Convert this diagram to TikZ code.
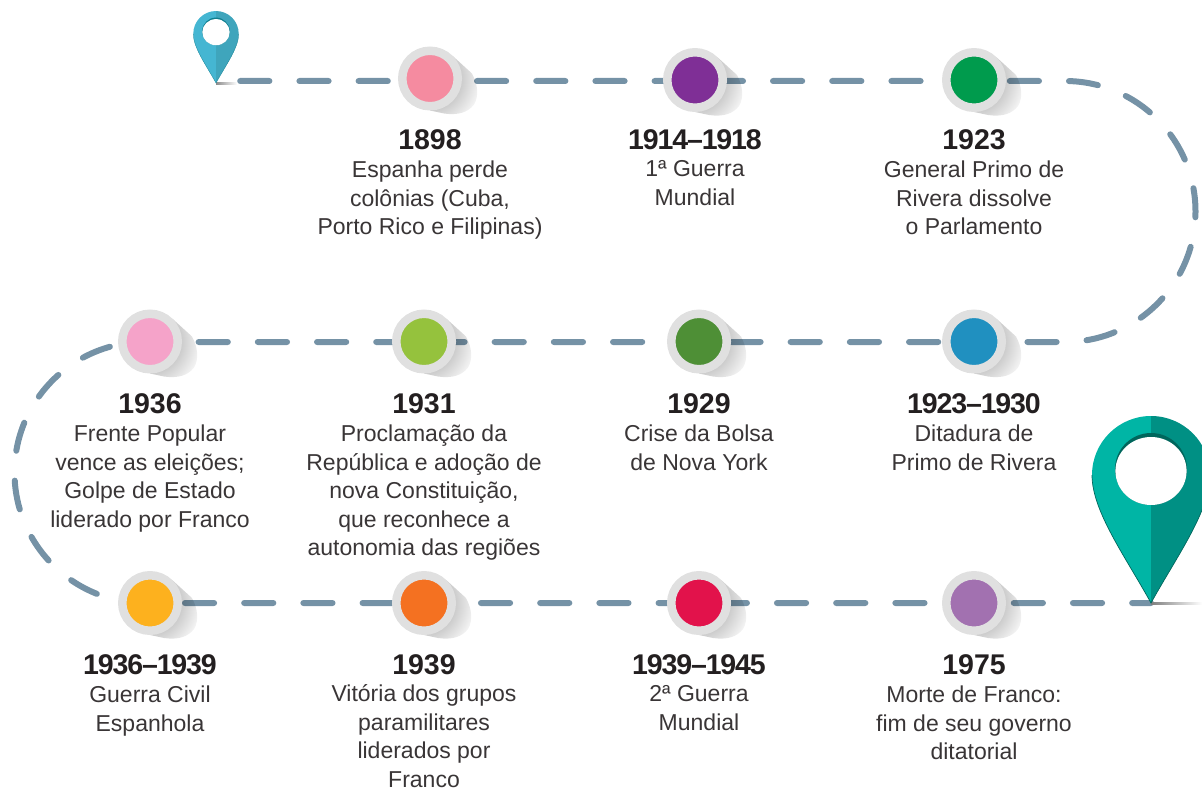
\documentclass[tikz,border=0pt]{standalone}
\usepackage{fontspec}
\setmainfont{Liberation Sans}
\usetikzlibrary{
  positioning,
  backgrounds,
  fadings
}
\definecolor{routeblue}{HTML}{7592A6}
\definecolor{ringgrey}{HTML}{E0E0E0}
\definecolor{inkblack}{HTML}{231F20}
\definecolor{rosepink}{HTML}{F58BA0}
\definecolor{warpurple}{HTML}{7F2F96}
\definecolor{flaggreen}{HTML}{009B4D}
\definecolor{seablue}{HTML}{2090C0}
\definecolor{leafgreen}{HTML}{4E8F36}
\definecolor{limegreen}{HTML}{95C23D}
\definecolor{softpink}{HTML}{F5A3C9}
\definecolor{sunyellow}{HTML}{FDB11E}
\definecolor{warmorange}{HTML}{F47121}
\definecolor{warred}{HTML}{E2124B}
\definecolor{lilac}{HTML}{A271B0}
\definecolor{pinskyL}{HTML}{45B6D2}
\definecolor{pinskyR}{HTML}{3FA5BC}
\definecolor{pinskyD}{HTML}{0F7F90}
\definecolor{pintealL}{HTML}{00B5A5}
\definecolor{pintealR}{HTML}{009084}
\definecolor{pintealD}{HTML}{00665C}
\tikzfading[name=shadowfade, inner color=transparent!55, outer color=transparent!100]
\tikzset{
  route/.style={
    line width=6pt, routeblue, line cap=round,
    dash pattern=on 29.2pt off 30pt, dash phase=35pt
  },
  stopmark/.style={
    circle, draw=ringgrey, line width=8.5pt, fill=#1,
    minimum size=55.5pt, inner sep=0pt
  },
  yearlabel/.style={
    anchor=north, inner sep=0pt, inkblack,
    font=\fontsize{28.5}{30}\selectfont\bfseries
  },
  rangelabel/.style={
    yearlabel,
    font=\fontsize{28.5}{30}\selectfont\bfseries\addfontfeature{LetterSpace=-4}
  },
  desclabel/.style={
    anchor=north, inner sep=0pt, align=center, inkblack!90,
    font=\fontsize{23}{28.6}\selectfont
  }
}
% name, position, colour
\newcommand\stopat[3]{
  \begin{scope}[shift={(#2)}]
    \clip (22.6,-22.6) -- (42,-5) .. controls (48,6) and (49,18) .. (44,26)
      .. controls (38,34) and (28,37) .. (14,35) -- (0,32) -- (0,0) -- cycle;
    \fill [black, path fading=shadowfade] (0,0) circle (56pt);
  \end{scope}
  \node [stopmark=#3] (#1) at (#2) {};
}
% position of the tip, scale, left, right, dark colour
\newcommand\mappin[5]{
  \begin{scope}[shift={(#1)}, scale=#2]
    \fill [#3] (0,0) .. controls (-26,-47) and (-59,-92) .. (-59,-128)
      .. controls (-59,-160.6) and (-32.6,-187) .. (0,-187) -- cycle;
    \fill [#4] (0,0) .. controls (26,-47) and (59,-92) .. (59,-128)
      .. controls (59,-160.6) and (32.6,-187) .. (0,-187) -- cycle;
    \draw [#5, line width=#2*.7pt] (-59,-128) .. controls (-59,-92) and (-26,-47) .. (0,0)
      .. controls (26,-47) and (59,-92) .. (59,-128);
    \fill [#5] (0,-134) circle [x radius=36, y radius=36];
    \fill [white] (0,-132) circle [x radius=35.6, y radius=34];
  \end{scope}
}
\begin{document}
\begin{tikzpicture}[x=1pt, y=-1pt]
\clip (0,0) rectangle (1202,789);
\coordinate (pinstart) at (216,81);
\coordinate (pintip) at (216,83);
\coordinate (pinend) at (1151,603);
\coordinate (turnA) at (1065,81);
\coordinate (turnB) at (1065,342);
\coordinate (turnC) at (145,342);
\coordinate (turnD) at (145,603);

\stopat{n1898}{430,78.5}{rosepink}
\stopat{n1914}{695,80}{warpurple}
\stopat{n1923}{974,80}{flaggreen}
\stopat{n1930}{974,341.5}{seablue}
\stopat{n1929}{699,341.5}{leafgreen}
\stopat{n1931}{424,341.5}{limegreen}
\stopat{n1936}{150,341.5}{softpink}
\stopat{n1939}{150,603}{sunyellow}
\stopat{n1939b}{424,603}{warmorange}
\stopat{n1945}{699,603}{warred}
\stopat{n1975}{974,603}{lilac}

\begin{scope}[on background layer]
\shade [left color=black!45, right color=white] (216,83) rectangle (237,84.5);
\draw [route] (pinstart) -- (n1898 |- pinstart) -- (n1914 |- pinstart)
  -- (n1923 |- pinstart) -- (turnA)
  arc [start angle=90, end angle=-90, radius=130.5pt]
  -- (n1930 |- turnB) -- (n1929 |- turnB) -- (n1931 |- turnB) -- (n1936 |- turnB) -- (turnC)
  arc [start angle=90, end angle=270, radius=130.5pt]
  -- (n1939 |- turnD) -- (n1939b |- turnD) -- (n1945 |- turnD) -- (n1975 |- turnD) -- (pinend);
\end{scope}

\shade [left color=black!50, right color=white] (1151,602.5) rectangle (1202,604);
\mappin{pintip}{.385}{pinskyL}{pinskyR}{pinskyD}
\mappin{pinend}{1}{pintealL}{pintealR}{pintealD}

\node [yearlabel] (y1898) at (430,129) {1898};
\node [desclabel, below=11pt of y1898] (t1898) {Espanha perde\\colônias (Cuba,\\Porto Rico e Filipinas)};
\node [rangelabel] (y1914) at (695,129) {1914–1918};
\node [desclabel, below=11pt of y1914] (t1914) {1ª Guerra\\Mundial};
\node [yearlabel] (y1923) at (974,129) {1923};
\node [desclabel, below=11pt of y1923] (t1923) {General Primo de\\Rivera dissolve\\o Parlamento};

\node [yearlabel] (y1936) at (150,393) {1936};
\node [desclabel, below=11pt of y1936] (t1936) {Frente Popular\\vence as eleições;\\Golpe de Estado\\liderado por Franco};
\node [yearlabel] (y1931) at (424,393) {1931};
\node [desclabel, below=11pt of y1931] (t1931) {Proclamação da\\República e adoção de\\nova Constituição,\\que reconhece a\\autonomia das regiões};
\node [yearlabel] (y1929) at (699,393) {1929};
\node [desclabel, below=11pt of y1929] (t1929) {Crise da Bolsa\\de Nova York};
\node [rangelabel] (y1930) at (974,393) {1923–1930};
\node [desclabel, below=11pt of y1930] (t1930) {Ditadura de\\Primo de Rivera};

\node [rangelabel] (y1939) at (150,654) {1936–1939};
\node [desclabel, below=11pt of y1939] (t1939) {Guerra Civil\\Espanhola};
\node [yearlabel] (y1939b) at (424,654) {1939};
\node [desclabel, below=10pt of y1939b] (t1939b) {Vitória dos grupos\\paramilitares\\liderados por\\Franco};
\node [rangelabel] (y1945) at (699,654) {1939–1945};
\node [desclabel, below=11pt of y1945] (t1945) {2ª Guerra\\Mundial};
\node [yearlabel] (y1975) at (974,654) {1975};
\node [desclabel, below=11pt of y1975] (t1975) {Morte de Franco:\\fim de seu governo\\ditatorial};
\end{tikzpicture}
\end{document}
